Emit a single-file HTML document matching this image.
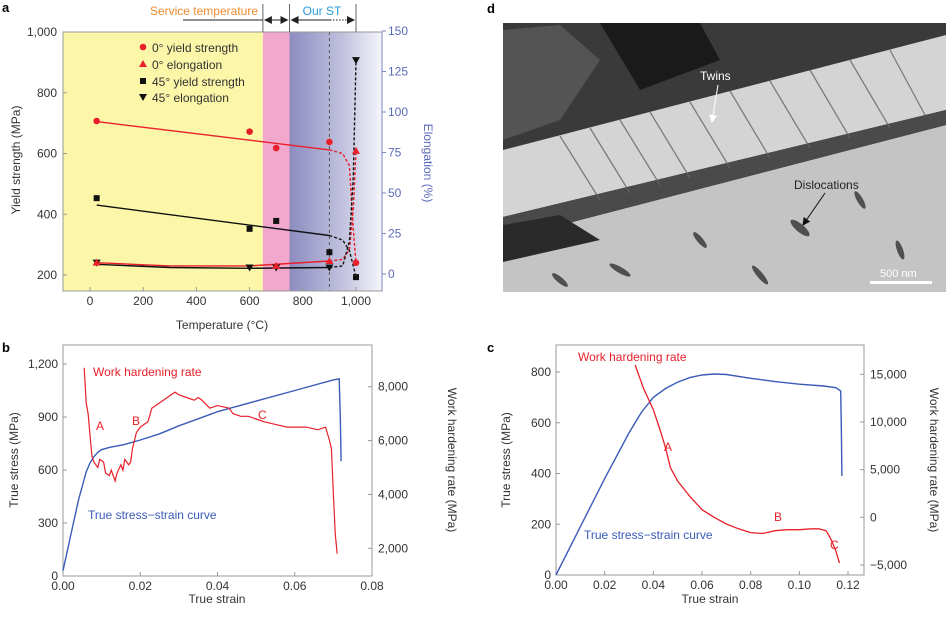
<!DOCTYPE html>
<html><head><meta charset="utf-8"><style>
body{margin:0;background:#fff;}
svg{display:block;font-family:"Liberation Sans",sans-serif;}
</style></head><body>
<svg id="fig" width="946" height="617" viewBox="0 0 946 617">
<defs>
<linearGradient id="pg" x1="0" x2="1" y1="0" y2="0"><stop offset="0" stop-color="#8c8cc0"/><stop offset="0.6" stop-color="#c4c4e0"/><stop offset="1" stop-color="#f6f6fb"/></linearGradient>
<marker id="ah" markerWidth="8" markerHeight="8" refX="7" refY="4" orient="auto-start-reverse"><path d="M0,0 L8,4 L0,8 z" fill="#222"/></marker>
<marker id="ahw" markerWidth="8" markerHeight="8" refX="7" refY="4" orient="auto"><path d="M0,0 L8,4 L0,8 z" fill="#fff"/></marker>
<marker id="ahb" markerWidth="8" markerHeight="8" refX="7" refY="4" orient="auto"><path d="M0,0 L8,4 L0,8 z" fill="#111"/></marker>
</defs>
<g id="pa"></g>
<g id="pb"></g>
<g id="pc"></g>
<g id="pd">
  <rect x="503" y="23" width="443" height="269" fill="#2a2a2a"/>
  <polygon points="503,23 946,23 946,35 503,150" fill="#3a3a3a"/>
  <polygon points="503,30 560,25 600,60 560,120 503,140" fill="#606060" opacity="0.7"/>
  <polygon points="600,23 700,23 720,60 640,90" fill="#1a1a1a"/>
  <polygon points="503,150 946,35 946,110 503,217" fill="#d4d4d4"/>
  <polygon points="503,240 946,125 946,292 503,292" fill="#c4c4c4"/>
  <polygon points="503,217 946,110 946,125 503,240" fill="#4a4a4a"/>
  <polygon points="503,225 560,215 600,240 503,262" fill="#2a2a2a"/>
  <g stroke="#666" stroke-width="1.3" opacity="0.8">
    <line x1="560" y1="136" x2="600" y2="200"/><line x1="590" y1="128" x2="630" y2="193"/>
    <line x1="620" y1="120" x2="660" y2="185"/><line x1="650" y1="112" x2="690" y2="178"/>
    <line x1="690" y1="102" x2="730" y2="168"/><line x1="730" y1="91" x2="770" y2="158"/>
    <line x1="770" y1="81" x2="810" y2="148"/><line x1="810" y1="70" x2="850" y2="138"/>
    <line x1="850" y1="60" x2="890" y2="128"/><line x1="890" y1="50" x2="925" y2="115"/>
  </g>
  <g fill="#333" opacity="0.8">
    <ellipse cx="800" cy="228" rx="12" ry="4" transform="rotate(40 800 228)"/>
    <ellipse cx="700" cy="240" rx="10" ry="3" transform="rotate(50 700 240)"/>
    <ellipse cx="620" cy="270" rx="12" ry="3" transform="rotate(30 620 270)"/>
    <ellipse cx="860" cy="200" rx="10" ry="3" transform="rotate(60 860 200)"/>
    <ellipse cx="560" cy="280" rx="10" ry="3" transform="rotate(40 560 280)"/>
    <ellipse cx="760" cy="275" rx="12" ry="3" transform="rotate(50 760 275)"/>
    <ellipse cx="900" cy="250" rx="10" ry="3" transform="rotate(70 900 250)"/>
  </g>
  <text x="700" y="80" font-size="12" fill="#fff">Twins</text>
  <line x1="718" y1="85" x2="712" y2="122" stroke="#fff" stroke-width="1" marker-end="url(#ahw)"/>
  <text x="794" y="189" font-size="12" fill="#222">Dislocations</text>
  <line x1="825" y1="193" x2="803" y2="225" stroke="#111" stroke-width="1" marker-end="url(#ahb)"/>
  <rect x="870" y="281" width="62" height="3" fill="#fff"/>
  <text x="880" y="277" font-size="11" fill="#fff">500 nm</text>
  <text x="487" y="13" font-size="13" font-weight="bold">d</text>
</g>
</svg>
<script>
// ---------- Panel a data ----------
const aTemps0Y=[25,600,700,900,1000];
const aYield0=[707,672,618,638,240];
const aTempsE0=[25,700,900,1000];
const aElong0=[7,5,8,76];
const aTemps45Y=[25,600,700,900,1000];
const aYield45=[453,352,378,275,193];
const aTemps45E=[25,600,700,900,1000];
const aElong45=[7,4,4,4,132];
const aFitY0=[[25,705],[900,612]];const aFitY0d=[[900,612],[950,600],[975,560],[990,350],[1000,240]];
const aFitY45=[[25,430],[900,330]];const aFitY45d=[[900,330],[950,315],[975,280],[990,230],[1000,193]];
const aFitE0=[[25,7],[300,5],[600,5],[900,8]];const aFitE0d=[[900,8],[950,9],[975,15],[990,40],[1000,76]];
const aFitE45=[[25,6],[300,4],[600,3.5],[900,4]];const aFitE45d=[[900,4],[950,5],[975,20],[990,60],[1000,132]];
const aXTicks=[0,200,400,600,800,1000];
const aXTickLabels=["0","200","400","600","800","1,000"];
const aYTicks=[200,400,600,800,1000];
const aYTickLabels=["200","400","600","800","1,000"];
const aRTicks=[0,25,50,75,100,125,150];
// ---------- Panel b data ----------
const bBlueX=[0,0.002,0.004,0.006,0.007,0.008,0.009,0.01,0.012,0.016,0.02,0.025,0.03,0.035,0.04,0.05,0.06,0.07,0.0715,0.0718,0.072];
const bBlueY=[30,230,430,590,640,675,700,715,728,745,770,805,850,890,930,990,1050,1110,1116,900,650];
const bRedX=[0.0055,0.006,0.0065,0.007,0.0075,0.008,0.009,0.0095,0.0105,0.011,0.012,0.0125,0.0135,0.014,0.015,0.0155,0.016,0.017,0.0175,0.018,0.019,0.02,0.021,0.022,0.023,0.025,0.027,0.029,0.03,0.032,0.034,0.035,0.036,0.038,0.04,0.043,0.044,0.046,0.048,0.05,0.052,0.055,0.058,0.06,0.063,0.066,0.068,0.069,0.0695,0.07,0.0705,0.071];
const bRedY=[8700,7400,7000,6200,5400,5200,5000,5300,5200,4800,4700,4900,4500,4800,5100,4900,5300,5100,5200,5700,6300,6500,6600,6700,7200,7400,7600,7800,7700,7600,7500,7600,7500,7200,7300,7200,7000,6900,6900,6800,6700,6600,6500,6500,6500,6400,6500,6000,5700,4000,2500,1800];
const bXTicks=[0,0.02,0.04,0.06,0.08];
const bXTickLabels=["0.00","0.02","0.04","0.06","0.08"];
const bYTicks=[0,300,600,900,1200];
const bYTickLabels=["0","300","600","900","1,200"];
const bRTicks=[2000,4000,6000,8000];
const bRTickLabels=["2,000","4,000","6,000","8,000"];
// ---------- Panel c data ----------
const cBlueX=[0,0.01,0.02,0.03,0.035,0.04,0.045,0.05,0.055,0.06,0.065,0.07,0.08,0.09,0.1,0.11,0.115,0.117,0.1173,0.1175];
const cBlueY=[0,190,380,560,640,700,735,760,778,788,792,790,775,762,752,745,738,725,560,390];
const cRedX=[0.0325,0.036,0.04,0.043,0.045,0.047,0.05,0.055,0.06,0.065,0.07,0.075,0.08,0.085,0.09,0.095,0.1,0.105,0.108,0.111,0.113,0.115,0.1165];
const cRedY=[16000,13500,11300,9000,7300,5200,3800,2200,800,0,-700,-1200,-1600,-1700,-1400,-1300,-1300,-1200,-1200,-1400,-2300,-3500,-4800];
const cXTicks=[0,0.02,0.04,0.06,0.08,0.1,0.12];
const cXTickLabels=["0.00","0.02","0.04","0.06","0.08","0.10","0.12"];
const cYTicks=[0,200,400,600,800];
const cYTickLabels=["0","200","400","600","800"];
const cRTicks=[-5000,0,5000,10000,15000];
const cRTickLabels=["\u22125,000","0","5,000","10,000","15,000"];

const NS="http://www.w3.org/2000/svg";
function mk(parent,tag,attrs,name,text){const e=document.createElementNS(NS,tag);for(const k in attrs)e.setAttribute(k,attrs[k]);


if(text!==undefined)e.textContent=text;parent.appendChild(e);return e;}
function lin(d0,d1,r0,r1){return v=>r0+(v-d0)*(r1-r0)/(d1-d0);}
function path(xs,ys,fx,fy){return xs.map((x,i)=>(i?'L':'M')+fx(x).toFixed(1)+','+fy(ys[i]).toFixed(1)).join(' ');}
function pathP(pts,fx,fy){return pts.map((p,i)=>(i?'L':'M')+fx(p[0]).toFixed(1)+','+fy(p[1]).toFixed(1)).join(' ');}
const GR="#333",AX="#999";

// ===== Panel a =====
(function(){
const g=document.getElementById('pa');
const X=lin(0,1000,90,356),Y=lin(200,1000,275,32),R=lin(0,150,274,31);
const L=63,Rt=382,T=32,B=291;
mk(g,'rect',{x:L,y:T,width:X(650)-L,height:B-T,fill:'#fbf6a8'},'service-temp-region');
mk(g,'rect',{x:X(650),y:T,width:X(750)-X(650),height:B-T,fill:'#f2a8cc'},'transition-region');
mk(g,'rect',{x:X(750),y:T,width:Rt-X(750),height:B-T,fill:'url(#pg)'},'our-st-region');
mk(g,'line',{x1:X(900),y1:T,x2:X(900),y2:B,stroke:'#555','stroke-dasharray':'3,3'},'900-marker-line');
mk(g,'rect',{x:L,y:T,width:Rt-L,height:B-T,fill:'none',stroke:AX},'plot-frame');
mk(g,'line',{x1:Rt,y1:T,x2:Rt,y2:B,stroke:'#7a86c0'},'right-axis-line');
aXTicks.forEach((t,i)=>{mk(g,'line',{x1:X(t),y1:B,x2:X(t),y2:B-4,stroke:AX},'x-tick');
mk(g,'text',{x:X(t),y:B+14,'font-size':12,'text-anchor':'middle',fill:GR},'x-tick-label',aXTickLabels[i]);});
aYTicks.forEach((t,i)=>{mk(g,'line',{x1:L,y1:Y(t),x2:L+4,y2:Y(t),stroke:AX},'y-tick');
mk(g,'text',{x:L-6,y:Y(t)+4,'font-size':12,'text-anchor':'end',fill:GR},'y-tick-label',aYTickLabels[i]);});
aRTicks.forEach(t=>{mk(g,'line',{x1:Rt,y1:R(t),x2:Rt+4,y2:R(t),stroke:'#7a86c0'},'right-tick');
mk(g,'text',{x:Rt+6,y:R(t)+4,'font-size':12,fill:'#5a6ab8'},'right-tick-label',String(t));});
mk(g,'text',{x:222,y:329,'font-size':12,'text-anchor':'middle',fill:GR},'x-axis-title','Temperature (°C)');
mk(g,'text',{x:20,y:160,'font-size':12,'text-anchor':'middle',fill:GR,transform:'rotate(-90 20 160)'},'y-axis-title','Yield strength (MPa)');
mk(g,'text',{x:424,y:163,'font-size':12,'text-anchor':'middle',fill:'#5a6ab8',transform:'rotate(90 424 163)'},'right-axis-title','Elongation (%)');
mk(g,'text',{x:2,y:12,'font-size':13,'font-weight':'bold'},'panel-a-label','a');
// header
mk(g,'text',{x:258,y:15,'font-size':12,'text-anchor':'end',fill:'#f08a30'},'service-temperature-label','Service temperature');
mk(g,'text',{x:322,y:15,'font-size':12,'text-anchor':'middle',fill:'#2a9ad8'},'our-st-label','Our ST');
[X(650),X(750),X(1000)].forEach(x=>mk(g,'line',{x1:x,y1:4,x2:x,y2:T,stroke:'#666'},'header-separator'));
mk(g,'line',{x1:183,y1:20,x2:X(650),y2:20,stroke:'#222'},'service-arrow-line');
mk(g,'line',{x1:X(650)+2,y1:20,x2:X(750)-2,y2:20,stroke:'#222','marker-start':'url(#ah)','marker-end':'url(#ah)'},'transition-arrow');
mk(g,'line',{x1:X(750)+2,y1:20,x2:330,y2:20,stroke:'#222','marker-start':'url(#ah)'},'our-st-arrow');
mk(g,'line',{x1:330,y1:20,x2:X(1000)-2,y2:20,stroke:'#222','stroke-dasharray':'1.5,1.5','marker-end':'url(#ah)'},'our-st-arrow-dotted');
// fits
const fits=[[aFitY0,aFitY0d,'#e8202a',Y],[aFitY45,aFitY45d,'#111',Y],[aFitE0,aFitE0d,'#e8202a',R],[aFitE45,aFitE45d,'#111',R]];
fits.forEach(f=>{mk(g,'path',{d:pathP(f[0],X,f[3]),stroke:f[2],'stroke-width':1.4,fill:'none'},'fit-line');
mk(g,'path',{d:pathP(f[1],X,f[3]),stroke:f[2],'stroke-width':1.4,fill:'none','stroke-dasharray':'3,2'},'fit-line-dashed');});
// markers
const circ=(x,y,c)=>mk(g,'circle',{cx:x,cy:y,r:3.3,fill:c},'marker-0deg-yield');
const sq=(x,y)=>mk(g,'rect',{x:x-3,y:y-3,width:6,height:6,fill:'#111'},'marker-45deg-yield');
const tu=(x,y)=>mk(g,'path',{d:`M${x},${y-4}L${x+4},${y+3}L${x-4},${y+3}z`,fill:'#e8202a'},'marker-0deg-elongation');
const td=(x,y)=>mk(g,'path',{d:`M${x},${y+4}L${x+4},${y-3}L${x-4},${y-3}z`,fill:'#111'},'marker-45deg-elongation');
aTemps45E.forEach((t,i)=>td(X(t),R(aElong45[i])));
aTempsE0.forEach((t,i)=>tu(X(t),R(aElong0[i])));
aTemps0Y.forEach((t,i)=>circ(X(t),Y(aYield0[i]),'#e8202a'));
aTemps45Y.forEach((t,i)=>sq(X(t),Y(aYield45[i])));
// legend
const lx=143;
circ(lx,47,'#e8202a');mk(g,'text',{x:152,y:52,'font-size':12,fill:GR},'legend-0deg-yield','0° yield strength');
tu(lx,64);mk(g,'text',{x:152,y:69,'font-size':12,fill:GR},'legend-0deg-elongation','0° elongation');
sq(lx,81);mk(g,'text',{x:152,y:86,'font-size':12,fill:GR},'legend-45deg-yield','45° yield strength');
td(lx,97);mk(g,'text',{x:152,y:102,'font-size':12,fill:GR},'legend-45deg-elongation','45° elongation');
})();

// ===== Panel b =====
(function(){
const g=document.getElementById('pb');
const L=63,Rt=372,T=345,B=576;
const X=lin(0,0.08,63,372),Y=lin(0,1200,576,364),R=lin(2000,8000,548.3,386.7);
mk(g,'rect',{x:L,y:T,width:Rt-L,height:B-T,fill:'none',stroke:AX},'plot-frame');
bXTicks.forEach((t,i)=>{mk(g,'line',{x1:X(t),y1:B,x2:X(t),y2:B-4,stroke:AX},'x-tick');
mk(g,'text',{x:X(t),y:B+14,'font-size':12,'text-anchor':'middle',fill:GR},'x-tick-label',bXTickLabels[i]);});
bYTicks.forEach((t,i)=>{mk(g,'line',{x1:L,y1:Y(t),x2:L+4,y2:Y(t),stroke:AX},'y-tick');
mk(g,'text',{x:L-5,y:Y(t)+4,'font-size':12,'text-anchor':'end',fill:GR},'y-tick-label',bYTickLabels[i]);});
bRTicks.forEach((t,i)=>{mk(g,'line',{x1:Rt,y1:R(t),x2:Rt-4,y2:R(t),stroke:AX},'right-tick');
mk(g,'text',{x:Rt+6,y:R(t)+4,'font-size':12,fill:GR},'right-tick-label',bRTickLabels[i]);});
mk(g,'text',{x:217,y:603,'font-size':12,'text-anchor':'middle',fill:GR},'x-axis-title','True strain');
mk(g,'text',{x:18,y:460,'font-size':12,'text-anchor':'middle',fill:GR,transform:'rotate(-90 18 460)'},'y-axis-title','True stress (MPa)');
mk(g,'text',{x:448,y:460,'font-size':12,'text-anchor':'middle',fill:GR,transform:'rotate(90 448 460)'},'right-axis-title','Work hardening rate (MPa)');
mk(g,'text',{x:2,y:352,'font-size':13,'font-weight':'bold'},'panel-b-label','b');
mk(g,'path',{d:path(bBlueX,bBlueY,X,Y),stroke:'#3a5bb8','stroke-width':1.4,fill:'none'},'stress-strain-curve');
mk(g,'path',{d:path(bRedX,bRedY,X,R),stroke:'#e8202a','stroke-width':1.2,fill:'none'},'work-hardening-curve');
mk(g,'text',{x:93,y:376,'font-size':12,fill:'#e8202a'},'work-hardening-label','Work hardening rate');
mk(g,'text',{x:88,y:519,'font-size':12,fill:'#3a5bb8'},'stress-strain-label','True stress\u2212strain curve');
mk(g,'text',{x:96,y:430,'font-size':12,fill:'#e8202a'},'label-A','A');
mk(g,'text',{x:132,y:425,'font-size':12,fill:'#e8202a'},'label-B','B');
mk(g,'text',{x:258,y:419,'font-size':12,fill:'#e8202a'},'label-C','C');
})();

// ===== Panel c =====
(function(){
const g=document.getElementById('pc');
const L=556,Rt=864,T=345,B=575;
const X=lin(0,0.12,556,848),Y=lin(0,800,575,372),R=lin(-5000,15000,565,374.3);
mk(g,'rect',{x:L,y:T,width:Rt-L,height:B-T,fill:'none',stroke:AX},'plot-frame');
cXTicks.forEach((t,i)=>{mk(g,'line',{x1:X(t),y1:B,x2:X(t),y2:B-4,stroke:AX},'x-tick');
mk(g,'text',{x:X(t),y:B+14,'font-size':12,'text-anchor':'middle',fill:GR},'x-tick-label',cXTickLabels[i]);});
cYTicks.forEach((t,i)=>{mk(g,'line',{x1:L,y1:Y(t),x2:L+4,y2:Y(t),stroke:AX},'y-tick');
mk(g,'text',{x:L-5,y:Y(t)+4,'font-size':12,'text-anchor':'end',fill:GR},'y-tick-label',cYTickLabels[i]);});
cRTicks.forEach((t,i)=>{mk(g,'line',{x1:Rt,y1:R(t),x2:Rt-4,y2:R(t),stroke:AX},'right-tick');
mk(g,'text',{x:Rt+6,y:R(t)+4,'font-size':12,fill:GR},'right-tick-label',cRTickLabels[i]);});
mk(g,'text',{x:710,y:603,'font-size':12,'text-anchor':'middle',fill:GR},'x-axis-title','True strain');
mk(g,'text',{x:510,y:460,'font-size':12,'text-anchor':'middle',fill:GR,transform:'rotate(-90 510 460)'},'y-axis-title','True stress (MPa)');
mk(g,'text',{x:930,y:460,'font-size':12,'text-anchor':'middle',fill:GR,transform:'rotate(90 930 460)'},'right-axis-title','Work hardening rate (MPa)');
mk(g,'text',{x:487,y:352,'font-size':13,'font-weight':'bold'},'panel-c-label','c');
mk(g,'path',{d:path(cBlueX,cBlueY,X,Y),stroke:'#3a5bb8','stroke-width':1.4,fill:'none'},'stress-strain-curve');
mk(g,'path',{d:path(cRedX,cRedY,X,R),stroke:'#e8202a','stroke-width':1.3,fill:'none'},'work-hardening-curve');
mk(g,'text',{x:578,y:361,'font-size':12,fill:'#e8202a'},'work-hardening-label','Work hardening rate');
mk(g,'text',{x:584,y:539,'font-size':12,fill:'#3a5bb8'},'stress-strain-label','True stress\u2212strain curve');
mk(g,'text',{x:664,y:451,'font-size':12,fill:'#e8202a'},'label-A','A');
mk(g,'text',{x:774,y:521,'font-size':12,fill:'#e8202a'},'label-B','B');
mk(g,'text',{x:830,y:549,'font-size':12,fill:'#e8202a'},'label-C','C');
})();
</script>
</body></html>
